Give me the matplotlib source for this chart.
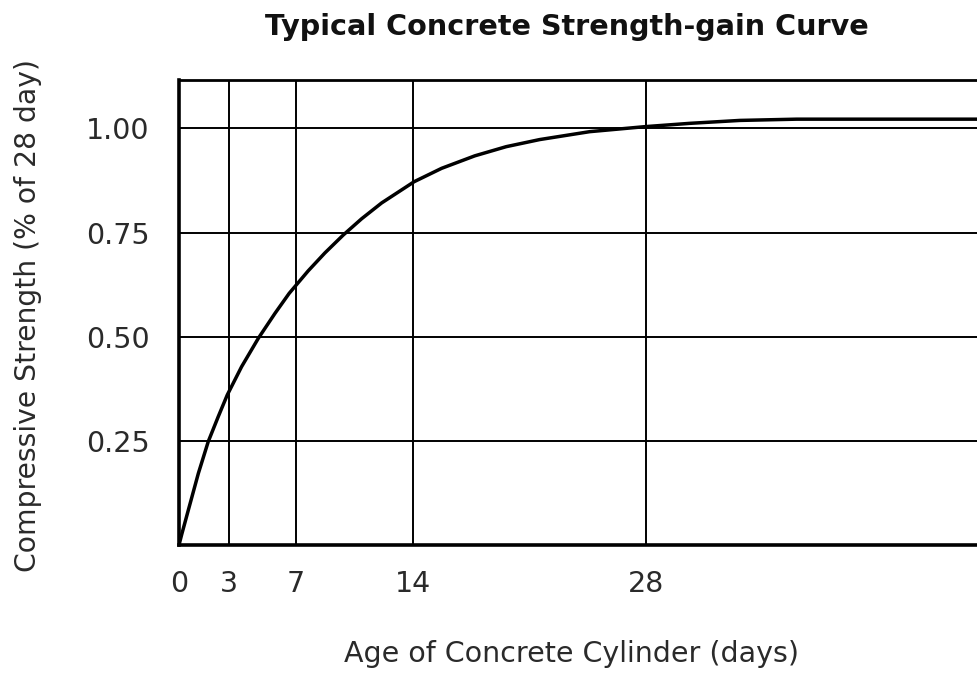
import matplotlib
matplotlib.use("Agg")
import matplotlib.pyplot as plt

# values (age in days, fraction of 28-day strength)
days = [0, 0.16, 0.56, 1.16, 1.75, 2.35, 2.89, 3.75, 4.75, 5.75, 6.6, 7.74,
        8.74, 9.84, 10.94, 12.14, 14.09, 15.73, 17.72, 19.6, 21.6, 24.6,
        27.9, 30.6, 33.6, 37, 48]
strength = [0, 0.025, 0.084, 0.172, 0.248, 0.308, 0.36, 0.428, 0.496, 0.556,
            0.604, 0.658, 0.701, 0.744, 0.783, 0.821, 0.872, 0.904, 0.934,
            0.956, 0.973, 0.992, 1.004, 1.012, 1.019, 1.022, 1.022]

x_ticks = [0, 3, 7, 14, 28]
y_ticks = [0.25, 0.50, 0.75, 1.00]
y_tick_labels = ["0.25", "0.50", "0.75", "1.00"]

plt.rcParams['font.family'] = ['DejaVu Sans']

fig = plt.figure(figsize=(9.77, 6.74), dpi=100)
ax = fig.add_axes([179 / 977, 129 / 674, 798 / 977, 465 / 674])

ax.plot(days, strength, color='black', lw=2.5, solid_capstyle='round',
        solid_joinstyle='round', zorder=3)

ax.set_xlim(0, 47.8)
ax.set_ylim(0, 1.116)

ax.set_xticks(x_ticks)
ax.set_yticks(y_ticks)
ax.set_yticklabels(y_tick_labels)
ax.tick_params(length=0, labelsize=20.5, colors='#2a2a2a')
ax.tick_params(axis='x', pad=18)
ax.tick_params(axis='y', pad=21)

# grid lines at the tick positions
for d in x_ticks[1:]:
    ax.axvline(d, color='black', lw=1.4, zorder=1)
for v in y_ticks:
    ax.axhline(v, color='black', lw=1.4, zorder=1)

ax.spines['right'].set_visible(False)
for s in ['left', 'bottom']:
    ax.spines[s].set_linewidth(2.6)
ax.spines['top'].set_linewidth(2.0)

ax.set_xlabel("Age of Concrete Cylinder (days)", fontsize=20.5, color='#2a2a2a')
ax.xaxis.label.set_va('center')
ax.xaxis.set_label_coords((572 - 179) / 798, (545 - 654) / 465)
ax.set_ylabel("Compressive Strength (% of 28 day)", fontsize=20.3, color='#2a2a2a')
ax.yaxis.label.set_va('center')
ax.yaxis.label.set_ha('center')
ax.yaxis.set_label_coords((28 - 179) / 798, (545 - 315) / 465)

fig.text(0.580, 0.96, "Typical Concrete Strength-gain Curve", ha='center', va='center',
         fontsize=20.6, fontweight='bold', color='#111111')

fig.savefig("out.png", dpi=100)
